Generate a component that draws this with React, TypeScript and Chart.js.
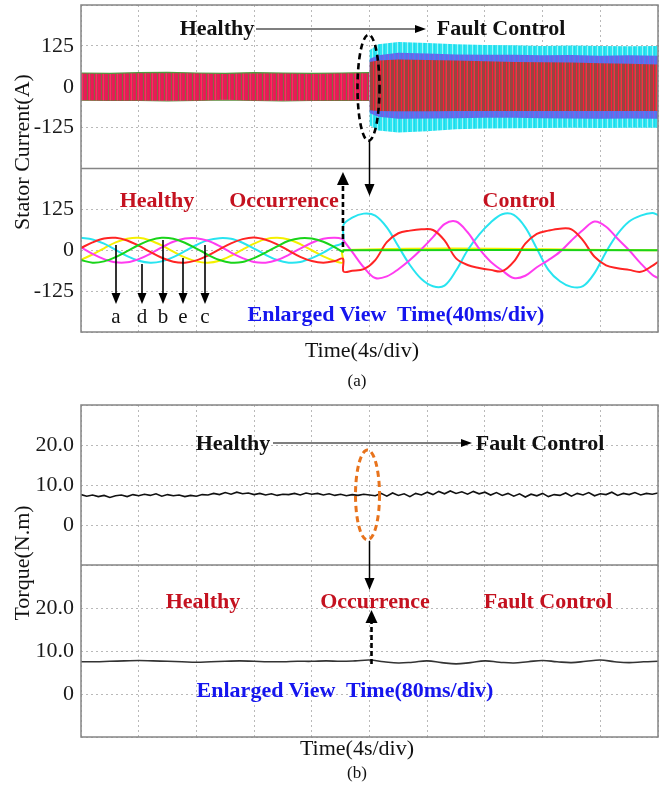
import React, { useEffect, useRef } from 'react';
import { Chart, registerables } from 'chart.js';
Chart.register(...registerables);

const FONT = "'Liberation Serif', 'Times New Roman', Times, serif";

// ---------------- (a) overview: stator current envelopes, time in s (4 s/div) ----------------
const healthyBandS = [0, 2, 4, 6, 8, 10, 12, 14, 16, 18, 20];
const healthyBandMax = [42, 41, 43, 44, 42, 41, 43, 42, 41, 42, 43];
const healthyBandMin = [-41, -42, -42, -43, -42, -40, -42, -43, -42, -41, -42];
const faultBandS = [20, 20.6, 22, 24, 26, 28, 30, 32, 34, 36, 38, 40];
const cyanMax = [112, 130, 137, 134, 130, 128, 127, 125, 126, 125, 124, 125];
const cyanMin = [-118, -134, -140, -136, -130, -128, -127, -126, -125, -126, -125, -125];
const blueMax = [85, 96, 104, 102, 99, 98, 98, 96, 97, 95, 96, 95];
const blueMin = [-80, -92, -98, -97, -96, -95, -95, -96, -97, -98, -97, -98];
const coreMax = [76, 80, 83, 82, 80, 78, 76, 75, 74, 72, 70, 68];
const coreMin = [-72, -74, -75, -75, -74, -74, -74, -74, -74, -74, -74, -74];

// ---------------- (a) enlarged view: phase currents, time in ms (40 ms/div) ----------------
const enlargedHealthyMs = [0, 8, 16, 24, 32, 40, 48, 56, 64, 72, 80, 88, 96, 104, 112, 120, 128, 136, 144, 152, 160, 168, 176, 181.6];
const phaseCyanHealthy = [38, 33, 20, 1, -18, -32, -38, -34, -21, -3, 16, 31, 37, 35, 23, 5, -14, -30, -38, -36, -24, -7, 13, 24];
const phaseRedHealthy = [7, 24, 36, 38, 30, 14, -5, -23, -35, -38, -31, -16, 3, 21, 34, 39, 32, 18, -1, -20, -33, -38, -33, -26];
const phaseYellowHealthy = [-29, -13, 6, 24, 35, 38, 30, 15, -4, -22, -34, -38, -32, -17, 2, 20, 34, 38, 33, 19, 0, -19, -33, -37];
const phaseGreenHealthy = [-30, -38, -34, -21, -3, 16, 31, 38, 35, 23, 5, -14, -30, -38, -36, -24, -7, 12, 29, 37, 36, 26, 9, -5];
const phaseMagentaHealthy = [9, -11, -27, -37, -37, -27, -11, 9, 26, 36, 37, 29, 13, -7, -24, -36, -38, -30, -14, 5, 23, 35, 38, 34];

const enlargedFaultMs = [182, 188, 196, 204, 212, 220, 228, 236, 244, 252, 260, 268, 276, 284, 292, 300, 308, 316, 324, 332, 340, 348, 356, 364, 372, 380, 388, 396, 400];
const phaseCyanFault = [78, 100, 112, 106, 70, 12, -45, -88, -110, -108, -62, 0, 48, 85, 110, 108, 70, 5, -60, -95, -112, -110, -70, -5, 50, 88, 106, 114, 108];
const phaseRedFault = [-65, -63, -58, -30, 25, 52, 60, 64, 62, 30, -25, -45, -54, -60, -64, -35, 20, 50, 60, 66, 64, 30, -20, -46, -55, -60, -66, -48, -35];
const phaseMagentaFault = [30, -5, -52, -85, -80, -58, -30, 3, 40, 80, 88, 55, 5, -35, -62, -85, -78, -52, -30, -5, 30, 62, 88, 72, 35, 0, -40, -75, -85];
const flatFaultMs = [182, 400];
const phaseYellowFault = [0, 0];
const phaseGreenFault = [0, 0];

// ---------------- (b) torque ----------------
const torqueHealthy = [7.6, 7.2, 7.5, 7.1, 7.4, 6.9, 7.3, 7.5, 7.1, 7.6, 7.3, 7.7, 7.4, 7.8, 7.2, 7.6, 7.3, 7.5, 7.1, 7.4, 7.2, 7.6, 7.5, 7.9, 7.6, 8.1, 7.7, 8.2, 7.8, 8.0, 7.6, 7.9, 7.5, 7.8, 7.4, 7.7, 7.6, 7.9, 7.5, 8.0, 7.7, 7.9, 7.5, 7.8, 7.4, 7.7, 7.3, 7.6, 7.4, 7.7, 7.5];
const torqueFault = [7.3, 7.9, 7.2, 8.0, 7.4, 7.8, 7.1, 7.9, 7.5, 8.2, 7.6, 8.4, 7.8, 8.5, 7.9, 8.3, 7.7, 8.4, 7.8, 8.2, 7.5, 8.1, 7.4, 7.9, 7.2, 7.8, 7.0, 7.7, 7.3, 7.9, 7.1, 7.6, 7.4, 8.0, 7.2, 7.9, 7.5, 8.1, 7.3, 7.8, 7.6, 8.2, 7.4, 7.9, 7.6, 8.1, 7.5, 7.9, 7.7, 8.0];
const torqueEnlargedMs = [0, 20, 40, 60, 80, 100, 120, 140, 160, 180, 200, 220, 240, 260, 280, 300, 320, 340, 360, 380, 400, 420, 440, 460, 480, 500, 520, 540, 560, 580, 600, 620, 640, 660, 680, 700, 720, 740, 760, 780, 800];
const torqueEnlarged = [7.5, 7.5, 7.6, 7.7, 7.8, 7.7, 7.6, 7.5, 7.4, 7.5, 7.6, 7.7, 7.6, 7.5, 7.5, 7.6, 7.6, 7.7, 7.6, 7.7, 7.9, 7.5, 7.2, 7.4, 7.7, 7.3, 7.0, 7.3, 7.7, 7.4, 7.2, 7.5, 7.8, 7.5, 7.3, 7.6, 7.9, 7.5, 7.3, 7.5, 7.6];

const currentTickLabels = [-125, 0, 125];
const torqueTickLabels = [0, 10, 20];

// ---------------- helpers ----------------
const pts = (xs: number[], ys: number[]) => xs.map((x, i) => ({ x, y: ys[i] }));

function stripes(colors: string[]) {
  const c = document.createElement('canvas');
  c.width = colors.length;
  c.height = 4;
  const ctx = c.getContext('2d')!;
  colors.forEach((col, i) => {
    ctx.fillStyle = col;
    ctx.fillRect(i, 0, 1, 4);
  });
  return ctx.createPattern(c, 'repeat')!;
}

const gridOpts = { color: '#b9b9b9', lineWidth: 1, drawTicks: false };
const borderOpts = { display: false, dash: [2, 3] };

function yAxis(min: number, max: number, step: number, weight: number, labels: number[], fmt: (v: number) => string) {
  return {
    type: 'linear',
    position: 'left',
    stack: 'panel',
    stackWeight: weight,
    min,
    max,
    ticks: {
      stepSize: step,
      autoSkip: false,
      font: { family: FONT, size: 22 },
      color: '#1a1a1a',
      padding: 7,
      callback: (v: any) => (labels.includes(Number(v)) ? fmt(Number(v)) : ''),
    },
    grid: gridOpts,
    border: borderOpts,
    afterFit: (s: any) => {
      s.width = 81;
      s.paddingTop = 0;
      s.paddingBottom = 0;
    },
  };
}

function xGridAxis(max: number) {
  return {
    type: 'linear',
    position: 'bottom',
    min: 0,
    max,
    ticks: { display: false, stepSize: max / 10 },
    grid: gridOpts,
    border: borderOpts,
    afterFit: (s: any) => {
      s.height = 0;
      s.paddingLeft = 0;
      s.paddingRight = 0;
    },
  };
}

function xHiddenAxis(max: number) {
  return { type: 'linear', position: 'bottom', min: 0, max, display: false };
}

function drawArrow(ctx: CanvasRenderingContext2D, x1: number, y1: number, x2: number, y2: number, o: any = {}) {
  const { width = 1.2, dash = [], head = 10, headW = 4.5, color = '#000' } = o;
  const ang = Math.atan2(y2 - y1, x2 - x1);
  const bx = x2 - head * Math.cos(ang);
  const by = y2 - head * Math.sin(ang);
  ctx.save();
  ctx.strokeStyle = color;
  ctx.fillStyle = color;
  ctx.lineWidth = width;
  ctx.setLineDash(dash);
  ctx.beginPath();
  ctx.moveTo(x1, y1);
  ctx.lineTo(bx, by);
  ctx.stroke();
  ctx.setLineDash([]);
  ctx.beginPath();
  ctx.moveTo(x2, y2);
  ctx.lineTo(bx + headW * Math.sin(ang), by - headW * Math.cos(ang));
  ctx.lineTo(bx - headW * Math.sin(ang), by + headW * Math.cos(ang));
  ctx.closePath();
  ctx.fill();
  ctx.restore();
}

function drawEllipse(ctx: CanvasRenderingContext2D, cx: number, cy: number, rx: number, ry: number, color: string, width: number, dash: number[]) {
  ctx.save();
  ctx.strokeStyle = color;
  ctx.lineWidth = width;
  ctx.setLineDash(dash);
  ctx.beginPath();
  ctx.ellipse(cx, cy, rx, ry, 0, 0, Math.PI * 2);
  ctx.stroke();
  ctx.restore();
}

function drawFrame(chart: any, upperId: string) {
  const { ctx, chartArea: ca, scales } = chart;
  ctx.save();
  ctx.strokeStyle = '#858585';
  ctx.lineWidth = 1.5;
  ctx.strokeRect(ca.left, ca.top, ca.right - ca.left, ca.bottom - ca.top);
  const dy = scales[upperId].bottom;
  ctx.beginPath();
  ctx.moveTo(ca.left, dy);
  ctx.lineTo(ca.right, dy);
  ctx.stroke();
  ctx.restore();
}

const TOP_A = 0;
const TOP_B = 392;

const annotA = {
  id: 'annotA',
  afterDraw(chart: any) {
    const { ctx, scales } = chart;
    drawFrame(chart, 'yTop');
    const o = TOP_A;
    const fx = scales.xs.getPixelForValue(20);
    const cy = scales.yTop.getPixelForValue(0);
    drawArrow(ctx, 256, 29 - o, 426, 29 - o, { width: 1.2, head: 11, headW: 4 });
    drawEllipse(ctx, fx - 1, cy + 1, 11, 53, '#000', 2.6, [6, 4]);
    drawArrow(ctx, fx, cy + 54, fx, 196 - o, { width: 1.5, head: 12, headW: 5 });
    const ox = scales.xms.getPixelForValue(181.6);
    drawArrow(ctx, ox, 247 - o, ox, 172 - o, { width: 2.6, dash: [5, 3], head: 13, headW: 6 });
    const letterArrows = [
      [116, 245],
      [142, 264],
      [163, 240],
      [183, 258],
      [205, 245],
    ];
    letterArrows.forEach(([x, y0]) => drawArrow(ctx, x, y0 - o, x, 304 - o, { width: 1.6, head: 11, headW: 4.5 }));
  },
};

const annotB = {
  id: 'annotB',
  afterDraw(chart: any) {
    const { ctx, scales } = chart;
    drawFrame(chart, 'yTopB');
    const o = TOP_B;
    const fx = scales.xs.getPixelForValue(20);
    const cy = scales.yTopB.getPixelForValue(7.5);
    drawArrow(ctx, 273, 443 - o, 472, 443 - o, { width: 1.2, head: 11, headW: 4 });
    drawEllipse(ctx, fx - 2, cy, 12, 45, '#e8731c', 3, [6, 4]);
    drawArrow(ctx, fx, cy + 46, fx, 590 - o, { width: 1.5, head: 12, headW: 5 });
    const ox = scales.xms.getPixelForValue(400);
    drawArrow(ctx, ox + 2, 664 - o, ox + 2, 610 - o, { width: 2.6, dash: [5, 3], head: 13, headW: 6 });
  },
};

const phaseLine = (label: string, xs: number[], ys: number[], color: string) => ({
  label,
  data: pts(xs, ys),
  borderColor: color,
  backgroundColor: color,
  borderWidth: 2,
  pointRadius: 0,
  tension: 0.35,
  fill: false,
  xAxisID: 'xms',
  yAxisID: 'yBot',
});

const band = (label: string, xs: number[], ys: number[], bg: any, fill: any, edge = 'transparent', edgeW = 0) => ({
  label,
  data: pts(xs, ys),
  borderColor: edge,
  borderWidth: edgeW,
  backgroundColor: bg,
  pointRadius: 0,
  tension: 0,
  fill,
  xAxisID: 'xs',
  yAxisID: 'yTop',
});

function configA(): any {
  const pHealthy = stripes(['#ee1855', '#ee1855', '#d8205a', '#8a6a40', '#ee1855', '#ff2a66', '#b84050']);
  const pCyan = stripes(['#2ee6f2', '#2ee6f2', '#9cf3f8', '#2ee6f2', '#20d8ea']);
  const pBlue = stripes(['#4f78f0', '#6a62e6', '#4f78f0', '#8a58e0', '#4a80f4']);
  const pCore = stripes(['#9c4440', '#9c4440', '#ff1a3a', '#9c4440', '#a85048', '#ff2a40', '#8e4a44']);
  const join = (a: number[], b: number[]) => a.concat(b);
  return {
    type: 'line',
    data: {
      datasets: [
        phaseLine('green', join(enlargedHealthyMs, flatFaultMs), join(phaseGreenHealthy, phaseGreenFault), '#19d419'),
        phaseLine('red', join(enlargedHealthyMs, enlargedFaultMs), join(phaseRedHealthy, phaseRedFault), '#ff2424'),
        phaseLine('magenta', join(enlargedHealthyMs, enlargedFaultMs), join(phaseMagentaHealthy, phaseMagentaFault), '#ff3cf0'),
        phaseLine('cyan', join(enlargedHealthyMs, enlargedFaultMs), join(phaseCyanHealthy, phaseCyanFault), '#28e4f0'),
        phaseLine('yellow', join(enlargedHealthyMs, flatFaultMs), join(phaseYellowHealthy, phaseYellowFault), '#f5f000'),
        band('core max', faultBandS, coreMax, pCore, '+1'),
        band('core min', faultBandS, coreMin, pCore, false),
        band('blue max', faultBandS, blueMax, pBlue, '+1'),
        band('blue min', faultBandS, blueMin, pBlue, false),
        band('cyan max', faultBandS, cyanMax, pCyan, '+1'),
        band('cyan min', faultBandS, cyanMin, pCyan, false),
        band('healthy max', healthyBandS, healthyBandMax, pHealthy, '+1', '#4f9a3c', 1.2),
        band('healthy min', healthyBandS, healthyBandMin, pHealthy, false, '#5a8a3a', 1.2),
      ],
    },
    options: {
      animation: false,
      responsive: false,
      maintainAspectRatio: false,
      devicePixelRatio: 1,
      events: [],
      layout: { autoPadding: false, padding: { left: 0, right: 8, top: 5, bottom: 10 } },
      plugins: { legend: { display: false }, tooltip: { enabled: false }, title: { display: false } },
      scales: {
        xs: xGridAxis(40),
        xms: xHiddenAxis(400),
        yBot: yAxis(-250, 250, 125, 1, currentTickLabels, (v) => String(v)),
        yTop: yAxis(-250, 250, 125, 1, currentTickLabels, (v) => String(v)),
      },
    },
    plugins: [annotA],
  };
}

function configB(): any {
  const fmt = (v: number) => (v === 0 ? '0' : v.toFixed(1));
  const overview = torqueHealthy.concat(torqueFault);
  const overviewS = overview.map((_, i) => (i * 40) / (overview.length - 1));
  return {
    type: 'line',
    data: {
      datasets: [
        {
          label: 'torque',
          data: pts(overviewS, overview),
          borderColor: '#111',
          borderWidth: 1.6,
          pointRadius: 0,
          tension: 0,
          fill: false,
          xAxisID: 'xs',
          yAxisID: 'yTopB',
        },
        {
          label: 'torque enlarged',
          data: pts(torqueEnlargedMs, torqueEnlarged),
          borderColor: '#333',
          borderWidth: 1.6,
          pointRadius: 0,
          tension: 0.4,
          fill: false,
          xAxisID: 'xms',
          yAxisID: 'yBotB',
        },
      ],
    },
    options: {
      animation: false,
      responsive: false,
      maintainAspectRatio: false,
      devicePixelRatio: 1,
      events: [],
      layout: { autoPadding: false, padding: { left: 0, right: 8, top: 13, bottom: 12 } },
      plugins: { legend: { display: false }, tooltip: { enabled: false }, title: { display: false } },
      scales: {
        xs: xGridAxis(40),
        xms: xHiddenAxis(800),
        yBotB: yAxis(-10, 30, 10, 172, torqueTickLabels, fmt),
        yTopB: yAxis(-10, 30, 10, 160, torqueTickLabels, fmt),
      },
    },
    plugins: [annotB],
  };
}

const RED = '#c41220';
const BLUE = '#1515ee';

type L = { t: string; x: number; y: number; bold?: boolean; color?: string; size?: number; rotate?: boolean };
const labels: L[] = [
  { t: 'Healthy', x: 217, y: 28, bold: true },
  { t: 'Fault Control', x: 501, y: 28, bold: true },
  { t: 'Healthy', x: 157, y: 200, bold: true, color: RED },
  { t: 'Occurrence', x: 284, y: 200, bold: true, color: RED },
  { t: 'Control', x: 519, y: 200, bold: true, color: RED },
  { t: 'a', x: 116, y: 316, size: 21 },
  { t: 'd', x: 142, y: 316, size: 21 },
  { t: 'b', x: 163, y: 316, size: 21 },
  { t: 'e', x: 183, y: 316, size: 21 },
  { t: 'c', x: 205, y: 316, size: 21 },
  { t: 'Enlarged View  Time(40ms/div)', x: 396, y: 314, bold: true, color: BLUE },
  { t: 'Time(4s/div)', x: 362, y: 350 },
  { t: '(a)', x: 357, y: 380, size: 17 },
  { t: 'Stator Current(A)', x: 22, y: 152, rotate: true },
  { t: 'Healthy', x: 233, y: 443, bold: true },
  { t: 'Fault Control', x: 540, y: 443, bold: true },
  { t: 'Healthy', x: 203, y: 601, bold: true, color: RED },
  { t: 'Occurrence', x: 375, y: 601, bold: true, color: RED },
  { t: 'Fault Control', x: 548, y: 601, bold: true, color: RED },
  { t: 'Enlarged View  Time(80ms/div)', x: 345, y: 690, bold: true, color: BLUE },
  { t: 'Torque(N.m)', x: 22, y: 563, rotate: true },
  { t: 'Time(4s/div)', x: 357, y: 748 },
  { t: '(b)', x: 357, y: 772, size: 17 },
];

export default function App() {
  const refA = useRef<HTMLCanvasElement>(null);
  const refB = useRef<HTMLCanvasElement>(null);
  useEffect(() => {
    const ca = new Chart(refA.current as HTMLCanvasElement, configA());
    const cb = new Chart(refB.current as HTMLCanvasElement, configB());
    return () => {
      ca.destroy();
      cb.destroy();
    };
  }, []);
  return (
    <div style={{ position: 'absolute', left: 0, top: 0, width: 666, height: 792, background: '#fff', overflow: 'hidden' }}>
      <canvas ref={refA} width={666} height={342} style={{ position: 'absolute', left: 0, top: TOP_A, width: 666, height: 342 }} />
      <canvas ref={refB} width={666} height={357} style={{ position: 'absolute', left: 0, top: TOP_B, width: 666, height: 357 }} />
      {labels.map((l, i) => (
        <div
          key={i}
          style={{
            position: 'absolute',
            left: l.x,
            top: l.y,
            transform: `translate(-50%, -50%)${l.rotate ? ' rotate(-90deg)' : ''}`,
            fontFamily: FONT,
            fontSize: l.size ?? 22,
            fontWeight: l.bold ? 700 : 400,
            color: l.color ?? '#111',
            whiteSpace: 'pre',
            lineHeight: 1,
          }}
        >
          {l.t}
        </div>
      ))}
    </div>
  );
}
